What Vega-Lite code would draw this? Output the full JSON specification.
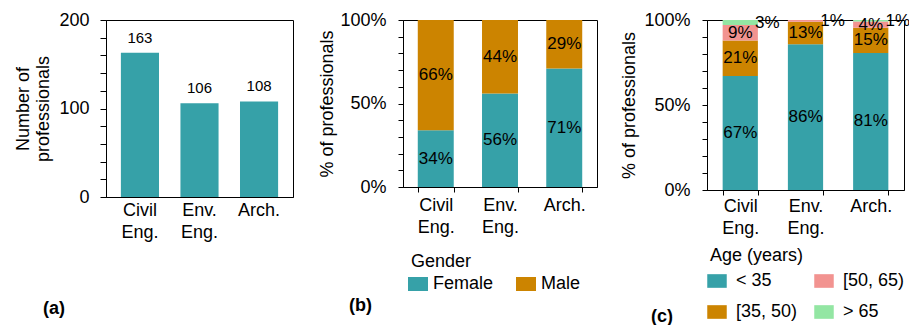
{
  "$schema": "https://vega.github.io/schema/vega-lite/v6.json",
  "padding": {"left": 14, "top": 10, "right": 0, "bottom": 0},
  "background": "white",
  "config": {
    "font": "Liberation Sans",
    "view": {"stroke": "black", "strokeWidth": 1},
    "axis": {
      "labelFont": "Liberation Sans", "titleFont": "Liberation Sans",
      "labelFontSize": 18, "titleFontSize": 18, "labelColor": "black", "titleColor": "black",
      "titleFontWeight": "normal", "domainColor": "black", "tickColor": "black", "grid": false
    },
    "legend": {
      "labelFont": "Liberation Sans", "titleFont": "Liberation Sans",
      "labelFontSize": 18, "titleFontSize": 18, "labelColor": "black", "titleColor": "black",
      "titleFontWeight": "normal"
    },
    "title": {"font": "Liberation Sans", "fontSize": 18, "fontWeight": "bold", "color": "black"}
  },
  "datasets": {
    "counts": [
      {"d": "Civil Eng.", "n": 163},
      {"d": "Env. Eng.", "n": 106},
      {"d": "Arch.", "n": 108}
    ],
    "gender": [
      {"d": "Civil Eng.", "g": "Female", "o": 1, "p": 0.34},
      {"d": "Civil Eng.", "g": "Male", "o": 2, "p": 0.66},
      {"d": "Env. Eng.", "g": "Female", "o": 1, "p": 0.56},
      {"d": "Env. Eng.", "g": "Male", "o": 2, "p": 0.44},
      {"d": "Arch.", "g": "Female", "o": 1, "p": 0.71},
      {"d": "Arch.", "g": "Male", "o": 2, "p": 0.29}
    ],
    "age": [
      {"d": "Civil Eng.", "a": "< 35", "o": 1, "p": 0.67},
      {"d": "Civil Eng.", "a": "[35, 50)", "o": 2, "p": 0.21},
      {"d": "Civil Eng.", "a": "[50, 65)", "o": 3, "p": 0.09},
      {"d": "Civil Eng.", "a": "> 65", "o": 4, "p": 0.03},
      {"d": "Env. Eng.", "a": "< 35", "o": 1, "p": 0.857},
      {"d": "Env. Eng.", "a": "[35, 50)", "o": 2, "p": 0.133},
      {"d": "Env. Eng.", "a": "[50, 65)", "o": 3, "p": 0.01},
      {"d": "Env. Eng.", "a": "> 65", "o": 4, "p": 0.0},
      {"d": "Arch.", "a": "< 35", "o": 1, "p": 0.806},
      {"d": "Arch.", "a": "[35, 50)", "o": 2, "p": 0.148},
      {"d": "Arch.", "a": "[50, 65)", "o": 3, "p": 0.037},
      {"d": "Arch.", "a": "> 65", "o": 4, "p": 0.009}
    ]
  },
  "bounds": "flush",
  "spacing": 110,
  "resolve": {"scale": {"color": "independent", "x": "independent", "y": "independent"}, "legend": {"color": "independent"}},
  "hconcat": [
    {
      "width": 187, "height": 177,
      "data": {"name": "counts"},
      "title": {"text": "(a)", "orient": "bottom", "anchor": "start", "frame": "group", "dx": -63, "offset": 59},
      "encoding": {
        "x": {"field": "d", "type": "nominal", "sort": null,
          "scale": {"paddingInner": 0.36, "paddingOuter": 0.25},
          "axis": {"title": null, "labelAngle": 0, "ticks": false, "labelPadding": 4, "labelBaseline": "top",
            "labelLineHeight": 22, "labelExpr": "split(datum.label, ' ')",
            "encode": {"labels": {"update": {"dy": {"signal": "datum.value === 'Arch.' ? 8 : 0"}}}}}},
        "y": {"field": "n", "type": "quantitative", "scale": {"domain": [0, 200], "nice": false},
          "axis": {"title": ["Number of", "professionals"], "values": [0, 20, 40, 60, 80, 100, 120, 140, 160, 180, 200],
            "labelExpr": "datum.value % 100 === 0 ? datum.label : ''", "tickSize": 6, "labelPadding": 11,
            "titlePadding": 6, "labelFlush": false, "labelOverlap": false, "titleLineHeight": 20}}
      },
      "layer": [
        {"mark": {"type": "bar", "color": "#36a1a8"}},
        {"mark": {"type": "text", "fontSize": 15, "baseline": "alphabetic", "dy": -10, "color": "black"},
          "encoding": {"text": {"field": "n", "type": "quantitative"}}}
      ]
    },
    {
      "width": 194, "height": 167,
      "data": {"name": "gender"},
      "title": {"text": "(b)", "orient": "bottom", "anchor": "start", "frame": "group", "dx": -54, "offset": -1},
      "transform": [
        {"stack": "p", "groupby": ["d"], "sort": [{"field": "o"}], "as": ["p0", "p1"]},
        {"calculate": "(datum.p0 + datum.p1) / 2", "as": "pm"}
      ],
      "encoding": {
        "x": {"field": "d", "type": "nominal", "sort": null,
          "scale": {"paddingInner": 0.44, "paddingOuter": 0.23},
          "axis": {"title": null, "labelAngle": 0, "ticks": true, "tickBand": "extent", "tickSize": 5, "labelPadding": 4,
            "labelBaseline": "top", "labelLineHeight": 22, "labelExpr": "split(datum.label, ' ')"}}
      },
      "layer": [
        {"mark": {"type": "bar"},
          "encoding": {
            "y": {"field": "p0", "type": "quantitative", "scale": {"domain": [0, 1], "nice": false},
              "axis": {"title": "% of professionals", "values": [0, 0.1, 0.2, 0.3, 0.4, 0.5, 0.6, 0.7, 0.8, 0.9, 1],
                "format": ".0%", "labelExpr": "(datum.value === 0 || datum.value === 0.5 || datum.value === 1) ? datum.label : ''",
                "tickSize": 5, "labelPadding": 12, "titlePadding": 3, "labelFlush": false, "labelOverlap": false}},
            "y2": {"field": "p1"},
            "color": {"field": "g", "type": "nominal",
            "scale": {"domain": ["Female", "Male"], "range": ["#36a1a8", "#cc8400"]},
            "legend": {"title": "Gender", "orient": "bottom", "direction": "horizontal", "padding": 5, "offset": 12,
              "symbolType": "M-1,-0.7H1V0.7H-1Z", "symbolSize": 400, "symbolStrokeWidth": 0, "symbolOpacity": 1,
              "labelOffset": 5, "columnPadding": 22, "titlePadding": 3,
              "encode": {"title": {"update": {"dx": {"value": 3}}},
                "symbols": {"update": {"fill": {"signal": "datum.value === 'Female' ? '#1f8c84' : '#c97a2b'"}}}}}}}},
        {"mark": {"type": "text", "fontSize": 17, "color": "black"},
          "encoding": {
            "y": {"field": "pm", "type": "quantitative", "scale": {"domain": [0, 1], "nice": false},
              "axis": {"title": "% of professionals", "values": [0, 0.1, 0.2, 0.3, 0.4, 0.5, 0.6, 0.7, 0.8, 0.9, 1],
                "format": ".0%", "labelExpr": "(datum.value === 0 || datum.value === 0.5 || datum.value === 1) ? datum.label : ''",
                "tickSize": 5, "labelPadding": 12, "titlePadding": 3, "labelFlush": false, "labelOverlap": false}},
            "text": {"field": "p", "type": "quantitative", "format": ".0%"}}}
      ]
    },
    {
      "width": 197, "height": 170,
      "data": {"name": "age"},
      "title": {"text": "(c)", "orient": "bottom", "anchor": "start", "frame": "group", "dx": -56, "offset": -13},
      "transform": [
        {"stack": "p", "groupby": ["d"], "sort": [{"field": "o"}], "as": ["p0", "p1"]},
        {"calculate": "(datum.p0 + datum.p1) / 2", "as": "pm"}
      ],
      "encoding": {
        "x": {"field": "d", "type": "nominal", "sort": null,
          "scale": {"paddingInner": 0.46, "paddingOuter": 0.24},
          "axis": {"title": null, "labelAngle": 0, "ticks": true, "tickBand": "extent", "tickSize": 5, "labelPadding": 2,
            "labelBaseline": "top", "labelLineHeight": 22, "labelExpr": "split(datum.label, ' ')"}}
      },
      "layer": [
        {"mark": {"type": "bar"},
          "encoding": {
            "y": {"field": "p0", "type": "quantitative", "scale": {"domain": [0, 1], "nice": false},
              "axis": {"title": "% of professionals", "values": [0, 0.1, 0.2, 0.3, 0.4, 0.5, 0.6, 0.7, 0.8, 0.9, 1],
                "format": ".0%", "labelExpr": "(datum.value === 0 || datum.value === 0.5 || datum.value === 1) ? datum.label : ''",
                "tickSize": 5, "labelPadding": 12, "titlePadding": 5, "labelFlush": false, "labelOverlap": false}},
            "y2": {"field": "p1"},
            "color": {"field": "a", "type": "nominal",
            "scale": {"domain": ["< 35", "[35, 50)", "[50, 65)", "> 65"], "range": ["#36a1a8", "#cc8400", "#f29390", "#93e6a3"]},
            "legend": {"title": "Age (years)", "orient": "bottom", "direction": "horizontal", "columns": 2, "padding": 0, "offset": 10,
              "values": ["< 35", "[50, 65)", "[35, 50)", "> 65"],
              "symbolType": "M-1,-0.7H1V0.7H-1Z", "symbolSize": 380, "symbolStrokeWidth": 0, "symbolOpacity": 1,
              "labelOffset": 9, "columnPadding": 16, "rowPadding": 12, "titlePadding": 6,
              "encode": {"title": {"update": {"dx": {"value": 3}}},
                "symbols": {"update": {"fill": {"signal": "datum.value === '< 35' ? '#1f8c84' : datum.value === '[35, 50)' ? '#c97a2b' : datum.value === '[50, 65)' ? '#f0958f' : '#a6f2ae'"}}}}}}}},
        {"transform": [{"filter": "datum.p >= 0.035"}],
          "mark": {"type": "text", "fontSize": 17, "color": "black"},
          "encoding": {
            "y": {"field": "pm", "type": "quantitative", "scale": {"domain": [0, 1], "nice": false},
              "axis": {"title": "% of professionals", "values": [0, 0.1, 0.2, 0.3, 0.4, 0.5, 0.6, 0.7, 0.8, 0.9, 1],
                "format": ".0%", "labelExpr": "(datum.value === 0 || datum.value === 0.5 || datum.value === 1) ? datum.label : ''",
                "tickSize": 5, "labelPadding": 12, "titlePadding": 5, "labelFlush": false, "labelOverlap": false}},
            "text": {"field": "p", "type": "quantitative", "format": ".0%"}}},
        {"transform": [{"filter": "datum.p > 0 && datum.p < 0.035"}],
          "mark": {"type": "text", "fontSize": 17, "color": "black", "dx": 27},
          "encoding": {
            "y": {"field": "pm", "type": "quantitative", "scale": {"domain": [0, 1], "nice": false},
              "axis": {"title": "% of professionals", "values": [0, 0.1, 0.2, 0.3, 0.4, 0.5, 0.6, 0.7, 0.8, 0.9, 1],
                "format": ".0%", "labelExpr": "(datum.value === 0 || datum.value === 0.5 || datum.value === 1) ? datum.label : ''",
                "tickSize": 5, "labelPadding": 12, "titlePadding": 5, "labelFlush": false, "labelOverlap": false}},
            "text": {"field": "p", "type": "quantitative", "format": ".0%"}}}
      ]
    }
  ]
}
